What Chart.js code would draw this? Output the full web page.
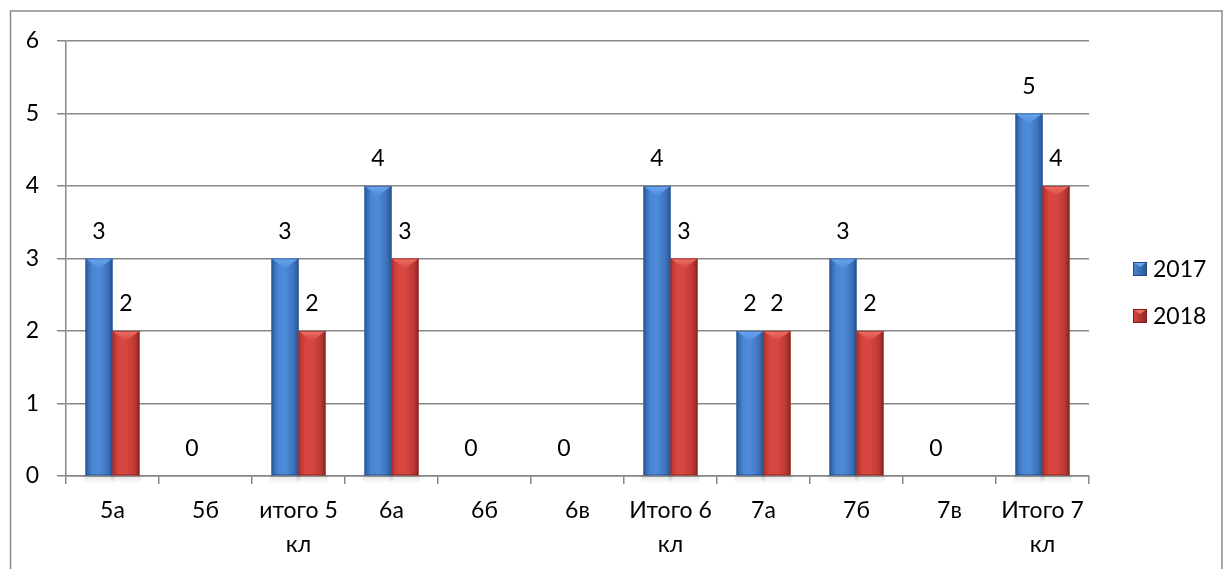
<!DOCTYPE html>
<html><head><meta charset="utf-8">
<script src="https://cdn.jsdelivr.net/npm/chart.js@4.4.0/dist/chart.umd.min.js"></script>
<style>html,body{margin:0;padding:0;background:#fff;}</style>
</head><body>
<canvas id="c" width="1226" height="569" style="display:block;width:1226px;height:569px"></canvas>
<script>
const categories = [["5а"],["5б"],["итого 5","кл"],["6а"],["6б"],["6в"],["Итого 6","кл"],["7а"],["7б"],["7в"],["Итого 7","кл"]];
const series2017 = [3, 0, 3, 4, 0, 0, 4, 2, 3, 0, 5];
const series2018 = [2, null, 2, 3, null, null, 3, 2, 2, null, 4];
const seriesNames = ["2017", "2018"];
const yTicks = [0, 1, 2, 3, 4, 5, 6];

const FONT = 'Lato, "Open Sans", sans-serif';
const FS = 23;
const palettes = [
  {mid:'#4a82cf', stops:['#2c5c9f','#4a86d4','#4f8bd8','#3f75bf','#2a5592'], bevel:'#6aa6ef', edge:'#23497e'},
  {mid:'#d3413b', stops:['#b5322d','#d8463f','#d74640','#c03a35','#8f2623'], bevel:'#ef6f68', edge:'#7a1f1c'}
];

const bevelPlugin = {
  id:'bevel',
  afterDatasetsDraw(chart){
    const ctx = chart.ctx;
    chart.data.datasets.forEach((ds, di) => {
      const meta = chart.getDatasetMeta(di);
      const p = palettes[di];
      meta.data.forEach((el, i) => {
        const v = ds.data[i];
        if (v === null || v === undefined || v <= 0) return;
        const {x, y, base, width} = el.getProps(['x','y','base','width'], true);
        const l = x - width/2, r = x + width/2;
        ctx.save();
        const sg = ctx.createLinearGradient(0, base, 0, base + 8);
        sg.addColorStop(0, 'rgba(0,0,0,0.12)');
        sg.addColorStop(1, 'rgba(0,0,0,0)');
        ctx.fillStyle = sg;
        ctx.fillRect(l - 2, base, width + 4, 8);
        const g = ctx.createLinearGradient(l, 0, r, 0);
        g.addColorStop(0, p.stops[0]);
        g.addColorStop(0.25, p.stops[1]);
        g.addColorStop(0.5, p.stops[2]);
        g.addColorStop(0.8, p.stops[3]);
        g.addColorStop(1, p.stops[4]);
        ctx.fillStyle = g;
        ctx.fillRect(l, y, width, base - y);
        const bh = Math.min(10, (base - y));
        const bg = ctx.createLinearGradient(0, y, 0, y + bh);
        bg.addColorStop(0, p.bevel);
        bg.addColorStop(1, p.stops[2]);
        ctx.fillStyle = bg;
        ctx.beginPath();
        ctx.moveTo(l, y);
        ctx.lineTo(r, y);
        ctx.lineTo(x, y + bh);
        ctx.closePath();
        ctx.fill();
        ctx.strokeStyle = p.edge;
        ctx.globalAlpha = 0.5;
        ctx.lineWidth = 1;
        ctx.strokeRect(l + 0.5, y + 0.5, width - 1, base - y - 1);
        ctx.restore();
      });
    });
  }
};

const labelPlugin = {
  id:'vlabels',
  afterDatasetsDraw(chart){
    const ctx = chart.ctx;
    ctx.save();
    ctx.font = FS + 'px ' + FONT;
    ctx.fillStyle = '#000';
    ctx.textAlign = 'center';
    ctx.textBaseline = 'middle';
    chart.data.datasets.forEach((ds, di) => {
      const meta = chart.getDatasetMeta(di);
      meta.data.forEach((el, i) => {
        const v = ds.data[i];
        if (v === null || v === undefined) return;
        const {x, y} = el.getProps(['x','y'], true);
        ctx.fillText(String(v), x, y - 27);
      });
    });
    ctx.restore();
  }
};

const framePlugin = {
  id:'frame',
  beforeDraw(chart){
    const ctx = chart.ctx;
    ctx.save();
    ctx.fillStyle = '#fff';
    ctx.fillRect(0, 0, chart.width, chart.height);
    ctx.strokeStyle = '#8a8a8a';
    ctx.lineWidth = 1.5;
    ctx.strokeRect(10.5, 11, 1211.5, 620);
    ctx.restore();
  },
  afterDraw(chart){
    const ctx = chart.ctx;
    ctx.save();
    ctx.font = FS + 'px ' + FONT;
    ctx.textBaseline = 'middle';
    ctx.textAlign = 'left';
    const ys = [269, 316];
    chart.data.datasets.forEach((ds, di) => {
      const p = palettes[di];
      const y = ys[di];
      const bx = 1133, s = 14;
      const g = ctx.createLinearGradient(bx, 0, bx + s, 0);
      g.addColorStop(0, p.stops[1]);
      g.addColorStop(1, p.stops[4]);
      ctx.fillStyle = g;
      ctx.fillRect(bx, y - s/2, s, s);
      ctx.fillStyle = p.bevel;
      ctx.beginPath();
      ctx.moveTo(bx, y - s/2); ctx.lineTo(bx + s, y - s/2); ctx.lineTo(bx + s/2, y - s/2 + 5); ctx.closePath(); ctx.fill();
      ctx.strokeStyle = p.edge; ctx.lineWidth = 1;
      ctx.strokeRect(bx + 0.5, y - s/2 + 0.5, s - 1, s - 1);
      ctx.fillStyle = '#000';
      ctx.fillText(ds.label, bx + 20, y + 1);
    });
    ctx.restore();
  }
};

new Chart(document.getElementById('c'), {
  type:'bar',
  data:{
    labels: categories,
    datasets:[
      {label: seriesNames[0], data: series2017, backgroundColor: palettes[0].mid, categoryPercentage:0.58, barPercentage:1.0},
      {label: seriesNames[1], data: series2018, backgroundColor: palettes[1].mid, categoryPercentage:0.58, barPercentage:1.0}
    ]
  },
  options:{
    responsive:false,
    animation:false,
    devicePixelRatio:1,
    layout:{padding:{top:41, right:137, left:0, bottom:0}},
    plugins:{legend:{display:false}, tooltip:{enabled:false}},
    scales:{
      x:{
        offset:true,
        grid:{offset:true, drawOnChartArea:false, drawTicks:true, tickLength:8, color:'#878787', lineWidth:1.5},
        border:{display:true, color:'#878787', width:1.5},
        ticks:{font:{family:FONT, size:FS, lineHeight:1.48}, color:'#000', padding:10, maxRotation:0, autoSkip:false},
        afterFit(s){ s.height = 93; }
      },
      y:{
        min:0, max:6,
        afterBuildTicks(s){ s.ticks = yTicks.map(v => ({value:v})); },
        grid:{color:'#878787', lineWidth:1.5, tickLength:9},
        border:{display:true, color:'#878787', width:1.5},
        ticks:{font:{family:FONT, size:FS}, color:'#000', padding:18},
        afterFit(s){ s.width = 66; }
      }
    }
  },
  plugins:[framePlugin, bevelPlugin, labelPlugin]
});
</script>
</body></html>
